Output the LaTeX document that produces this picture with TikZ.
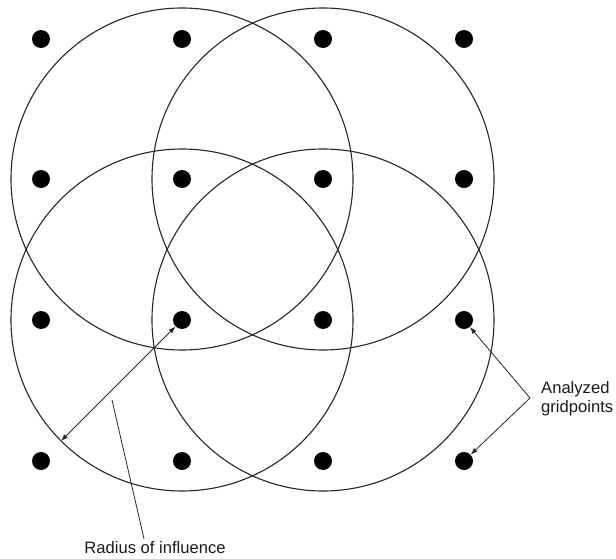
\documentclass[tikz,border=0pt]{standalone}
\usepackage{fontspec}
\setmainfont{Liberation Sans}
\usetikzlibrary{positioning, arrows.meta}

\begin{document}
\begin{tikzpicture}[
    x=1pt, y=-1pt,
    >={Latex[length=7pt, width=5pt]},
    gridpt/.style={circle, fill=black, inner sep=0pt, minimum size=18pt},
    zone/.style={draw=black!85, line width=1.1pt},
    pointer/.style={line width=0.8pt, black!85},
    lbl/.style={font=\fontsize{16.6}{19}\selectfont, text=black!90, inner sep=0pt}
]
    \useasboundingbox (0, 0) rectangle (616, 559);
    % Gridpoints, row 1
    \node[gridpt] (g11) at (41, 39) {};
    \node[gridpt] (g12) at (182, 39) {};
    \node[gridpt] (g13) at (323, 39) {};
    \node[gridpt] (g14) at (464, 39) {};
    % Gridpoints, row 2
    \node[gridpt] (g21) at (41, 179) {};
    \node[gridpt] (g22) at (182, 179) {};
    \node[gridpt] (g23) at (323, 179) {};
    \node[gridpt] (g24) at (464, 179) {};
    % Gridpoints, row 3
    \node[gridpt] (g31) at (41, 320) {};
    \node[gridpt] (g32) at (182, 320) {};
    \node[gridpt] (g33) at (323, 320) {};
    \node[gridpt] (g34) at (464, 320) {};
    % Gridpoints, row 4
    \node[gridpt] (g41) at (41, 461) {};
    \node[gridpt] (g42) at (182, 461) {};
    \node[gridpt] (g43) at (323, 461) {};
    \node[gridpt] (g44) at (464, 461) {};
    % Circles of influence
    \draw[zone] (g22) circle[radius=171pt];
    \draw[zone] (g23) circle[radius=171pt];
    \draw[zone] (g32) circle[radius=171pt];
    \draw[zone] (g33) circle[radius=171pt];
    % Radius of influence
    \coordinate (rim) at (61, 441);
    \draw[pointer, <->] (g32) -- (rim);
    \node[lbl, anchor=base] (roi) at (155, 553) {Radius of influence};
    \coordinate (roitip) at (112, 400);
    \draw[pointer] ([xshift=-11pt, yshift=2pt]roi.north) -- (roitip);
    % Analyzed gridpoints
    \node[lbl, align=left, anchor=west] (ag) at (541, 399) {Analyzed\\gridpoints};
    \coordinate (fork) at (530, 398);
    \draw[pointer, ->] (fork) -- (g34);
    \draw[pointer, ->] (fork) -- (g44);
\end{tikzpicture}
\end{document}
